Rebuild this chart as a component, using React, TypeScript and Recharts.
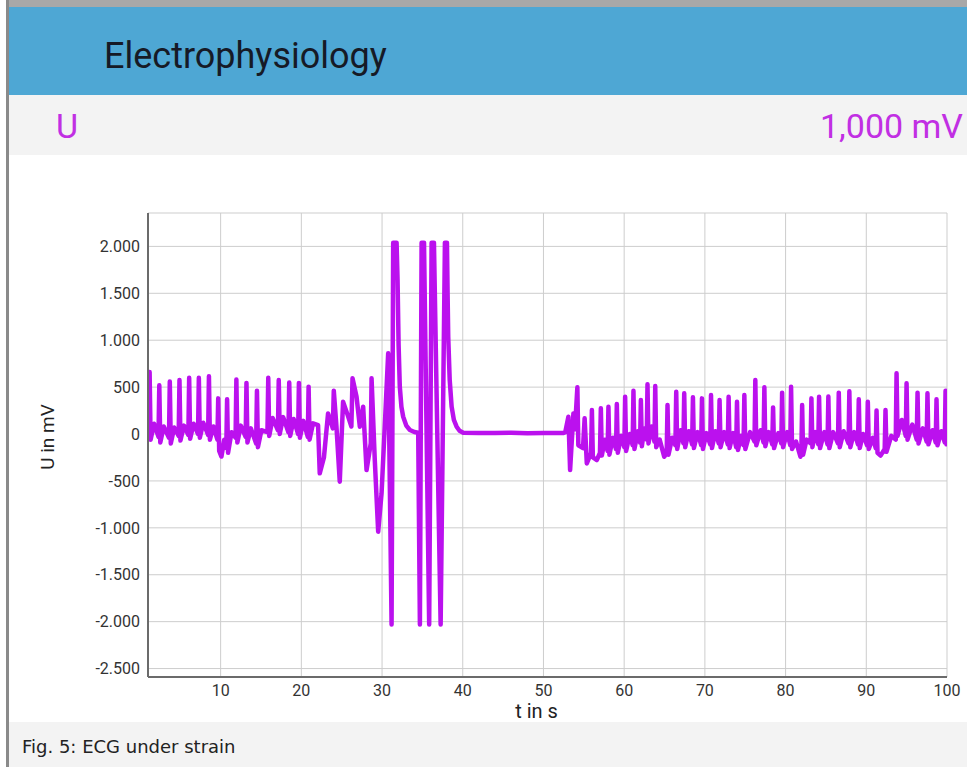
import React from 'react';
import { LineChart, Line, XAxis, YAxis, CartesianGrid } from 'recharts';

// ECG recording, [t in s, U in mV]
const warmUp: [number, number][] = [
  [1.0, -20], [1.2, 660], [1.32, -60], [1.75, 110],
  [2.3, -30], [2.4, 520], [2.52, -90], [2.95, 80],
  [3.6, -40], [3.7, 560], [3.82, -100], [4.25, 70],
  [4.8, -20], [4.9, 575], [5.02, -70], [5.45, 90],
  [6.0, -10], [6.1, 600], [6.22, -50], [6.65, 110],
  [7.2, 0], [7.3, 600], [7.42, -40], [7.85, 120],
  [8.45, -10], [8.55, 615], [8.67, -60], [9.1, 80],
  [9.6, -60], [9.7, 380], [9.82, -180], [10.1, -240], [10.45, -60],
  [10.7, -150], [10.8, 370], [10.92, -200], [11.35, 20],
  [11.85, -40], [11.95, 580], [12.07, -90], [12.5, 90],
  [13.1, -30], [13.2, 545], [13.32, -90], [13.75, 60],
  [14.4, -100], [14.5, 460], [14.62, -140], [15.05, 40],
  [15.8, 20], [15.9, 600], [16.02, -20], [16.45, 170],
  [17.1, 40], [17.2, 575], [17.32, 0], [17.75, 180],
  [18.4, 20], [18.5, 550], [18.62, -20], [19.05, 160],
  [19.6, 0], [19.7, 545], [19.82, -40], [20.25, 140],
  [20.8, -30], [20.9, 505], [21.02, -60], [21.45, 114],
];

const strainOnset: [number, number][] = [
  [22.07, 96], [22.28, -419], [22.8, -250], [23.31, 220], [23.9, 60], [24.02, 462],
  [24.35, 78], [24.76, -508], [25.17, 344], [25.67, 220], [26.2, 80], [26.34, 594],
  [26.84, 398], [27.25, 78], [27.66, 291], [28.08, -384], [28.6, -100], [28.7, 594],
  [29.1, -277], [29.52, -1041], [29.94, -632], [30.4, 200], [30.76, 860],
];

const saturation: [number, number][] = [
  [31.18, -2030], [31.38, 2040], [31.8, 2040], [31.92, 1650], [32.05, 950], [32.2, 504],
  [32.4, 290], [32.62, 184], [33.0, 90], [33.45, 43], [34.0, 22],
  [34.48, 14], [34.69, -2030], [34.9, 2040], [35.2, 2040], [35.84, -2030], [36.14, 2040],
  [36.43, 2040], [37.26, -2030], [37.79, 2040], [38.04, 2040], [38.12, 1500], [38.2, 1037],
  [38.38, 580], [38.62, 291], [38.9, 150], [39.24, 78], [39.6, 35], [40.06, 14],
];

const flatline: [number, number][] = [
  [42, 12], [44, 10], [46, 14], [48, 8], [50, 12], [52.47, 10],
];

const recovery: [number, number][] = [
  [52.7, 20], [53.09, 184], [53.3, -384], [53.71, 220], [53.9, 50], [54.2, 498],
  [54.32, -120], [54.9, -150], [55.1, 167], [55.37, -313], [55.9, -200], [56.0, 256],
  [56.12, -250], [56.61, -277], [57.0, -200], [57.11, 274], [57.23, -230], [57.6, -60],
  [57.95, -180], [58.05, 291], [58.17, -220], [58.6, -40],
  [58.99, -160], [59.09, 320], [59.21, -200], [59.65, -20],
  [60.02, -140], [60.12, 398], [60.24, -180], [60.7, 0],
  [61.05, -120], [61.15, 462], [61.27, -160], [61.7, 30],
  [61.97, -90], [62.07, 362], [62.19, -130], [62.5, 60],
  [62.79, -60], [62.89, 530], [63.01, -100], [63.4, 80],
  [63.75, -80], [63.85, 512], [63.97, -140], [64.4, -60], [64.96, -242],
  [65.27, -200], [65.37, 309], [65.49, -220], [65.95, -40],
  [66.35, -120], [66.45, 451], [66.57, -160], [67.0, 40],
  [67.34, -100], [67.44, 434], [67.56, -140], [68.0, 30],
  [68.42, -110], [68.52, 391], [68.64, -150], [69.1, 20],
  [69.54, -120], [69.64, 380], [69.76, -160], [70.2, 10],
  [70.66, -110], [70.76, 416], [70.88, -150], [71.3, 30],
  [71.72, -100], [71.82, 362], [71.94, -140], [72.4, 20],
  [72.84, -110], [72.94, 398], [73.06, -150], [73.5, 10],
  [73.88, -140], [73.98, 344], [74.1, -170], [74.5, -20],
  [74.79, -120], [74.89, 416], [75.01, -160], [75.6, 20],
  [76.15, -80], [76.25, 576], [76.37, -120], [76.9, 40],
  [77.27, -90], [77.37, 498], [77.49, -130], [77.9, 20],
  [78.35, -110], [78.45, 284], [78.57, -150], [79.1, 10],
  [79.47, -100], [79.57, 441], [79.69, -140], [80.2, 20],
  [80.58, -120], [80.68, 504], [80.8, -160], [81.3, -80], [81.84, -242],
  [81.95, -200], [82.05, 309], [82.17, -220], [82.6, -60],
  [83.1, -100], [83.2, 380], [83.32, -140], [83.7, 20],
  [84.05, -110], [84.15, 398], [84.27, -150], [84.8, 20],
  [85.2, -110], [85.3, 400], [85.42, -150], [85.9, 20],
  [86.49, -100], [86.59, 441], [86.71, -140], [87.2, 30],
  [87.8, -100], [87.9, 455], [88.02, -140], [88.5, 20],
  [88.97, -110], [89.07, 370], [89.19, -150], [89.6, 0],
  [90.09, -120], [90.19, 344], [90.31, -160], [90.8, -40],
  [91.17, -150], [91.27, 250], [91.39, -200], [91.77, -230],
  [92.28, -160], [92.38, 256], [92.5, -190], [93.1, -20],
  [93.65, -60], [93.75, 647], [93.87, -20], [94.4, 150],
  [94.89, -20], [94.99, 540], [95.11, -60], [95.7, 100],
  [96.25, -60], [96.35, 441], [96.47, -100], [97.0, 60],
  [97.48, -80], [97.58, 434], [97.7, -110], [98.2, 40],
  [98.6, -90], [98.7, 370], [98.82, -120], [99.3, 30],
  [99.72, -90], [99.82, 462], [99.94, -110], [100.0, 150],
];

const timeTicks = [10, 20, 30, 40, 50, 60, 70, 80, 90, 100];
const voltTicks = [-2500, -2000, -1500, -1000, -500, 0, 500, 1000, 1500, 2000];

const data = [...warmUp, ...strainOnset, ...saturation, ...flatline, ...recovery].map(([t, u]) => ({ t, u }));

// German style thousands separator: 2000 -> "2.000"
const formatVolt = (v: number) => {
  const s = String(Math.abs(v));
  const body = s.length > 3 ? s.slice(0, -3) + '.' + s.slice(-3) : s;
  return (v < 0 ? '-' : '') + body;
};

const LINE = '#bb11ee';
const TEXT_PURPLE = '#c12fe3';
const tickStyle = { fontFamily: 'Roboto', fontSize: 16, fill: '#333' };

export default function App() {
  return (
    <div style={{ position: 'absolute', left: 0, top: 0, width: 967, height: 767, background: '#fff', overflow: 'hidden', fontFamily: 'Roboto' }}>
      <div style={{ position: 'absolute', left: 6, top: 0, width: 961, height: 7, background: '#a8a8a8' }} />
      <div style={{ position: 'absolute', left: 6, top: 0, width: 3, height: 767, background: '#8a8a8a' }} />
      <div style={{ position: 'absolute', left: 9, top: 7, width: 958, height: 88, background: '#4ea7d4' }}>
        <div style={{ position: 'absolute', left: 95, top: 28, fontSize: 36, lineHeight: '42px', color: '#161a26' }}>Electrophysiology</div>
      </div>
      <div style={{ position: 'absolute', left: 9, top: 95, width: 958, height: 60, background: '#f3f3f3' }}>
        <div style={{ position: 'absolute', left: 47, top: 11, fontSize: 34, lineHeight: '40px', color: TEXT_PURPLE }}>U</div>
        <div style={{ position: 'absolute', right: 4, top: 11, fontSize: 34, lineHeight: '40px', color: TEXT_PURPLE }}>1,000 mV</div>
      </div>
      <div style={{ position: 'absolute', left: 0, top: 155 }}>
        <LineChart width={967} height={567} data={data} margin={{ top: 58, right: 20, bottom: 0, left: 0 }}>
          <CartesianGrid stroke="#cdcdcd" strokeWidth={1} />
          <XAxis
            dataKey="t"
            type="number"
            domain={[1, 100]}
            ticks={timeTicks}
            allowDataOverflow
            height={45}
            tickLine={false}
            axisLine={{ stroke: '#6b6b6b', strokeWidth: 2 }}
            tick={tickStyle}
            label={{ value: 't in s', position: 'insideBottom', offset: 4, dx: -11, style: { fontFamily: 'Roboto', fontSize: 20, fill: '#222' } }}
          />
          <YAxis
            type="number"
            domain={[-2590, 2356]}
            ticks={voltTicks}
            allowDataOverflow
            width={148}
            tickLine={false}
            axisLine={{ stroke: '#6b6b6b', strokeWidth: 2 }}
            tick={tickStyle}
            tickFormatter={formatVolt}
            label={{ value: 'U in mV', angle: -90, position: 'center', dx: -27, dy: -8, style: { fontFamily: 'Roboto', fontSize: 19, fill: '#222' } }}
          />
          <Line
            type="linear"
            dataKey="u"
            stroke={LINE}
            strokeWidth={4.5}
            strokeLinejoin="round"
            strokeLinecap="round"
            dot={false}
            isAnimationActive={false}
          />
        </LineChart>
      </div>
      <div style={{ position: 'absolute', left: 9, top: 722, width: 958, height: 45, background: '#f3f3f3' }}>
        <div style={{ position: 'absolute', left: 13, top: 14, fontFamily: 'DejaVu Sans', fontSize: 18, lineHeight: '22px', color: '#222' }}>Fig. 5: ECG under strain</div>
      </div>
    </div>
  );
}
